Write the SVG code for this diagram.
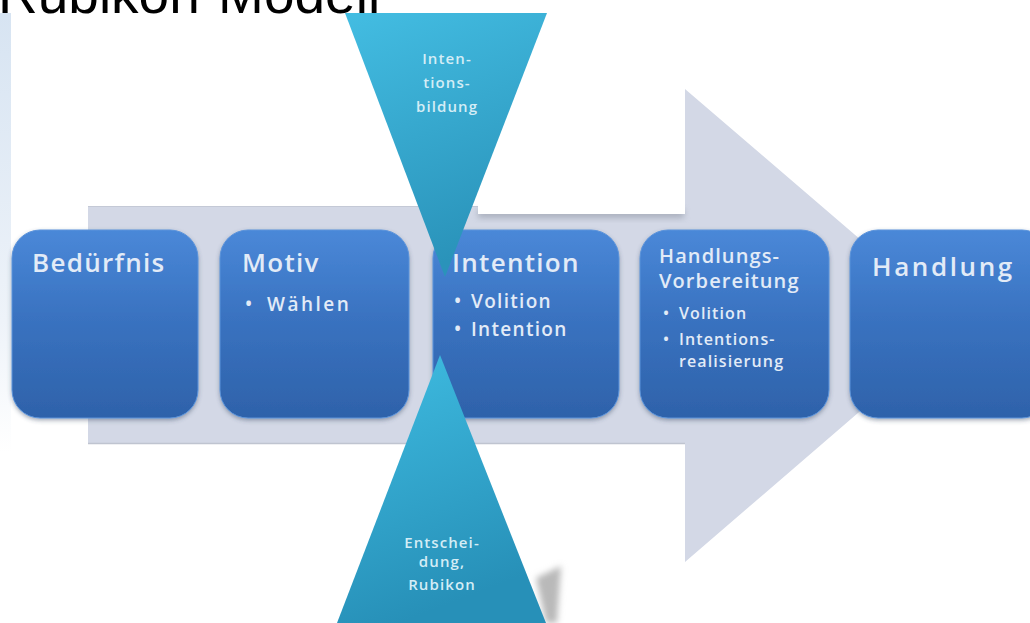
<svg xmlns="http://www.w3.org/2000/svg" width="1030" height="623" viewBox="0 0 1030 623">
  <defs>
    <style>
      .box { fill: url(#boxFill); stroke: #5a93db; stroke-width: 1; filter: url(#boxShadow); }
      .lbl { font-family: "Open Sans", "Noto Sans", sans-serif; font-weight: 600; fill: #e2ebf7; }
      .head { font-size: 26px; letter-spacing: 1.3px; }
      .item { font-size: 19px; letter-spacing: 1.3px; }
      .small { font-size: 20px; letter-spacing: 1.1px; }
      .tiny { font-size: 16px; letter-spacing: 1.1px; }
      .tri { font-family: "Open Sans", "Noto Sans", sans-serif; font-weight: 600; font-size: 15px; letter-spacing: 1.1px; fill: #d4edf6; text-anchor: middle; }
    </style>
    <linearGradient id="boxFill" x1="0" y1="0" x2="0" y2="1">
      <stop offset="0" stop-color="#4a88d8"/>
      <stop offset="0.45" stop-color="#3a73c1"/>
      <stop offset="1" stop-color="#2e62aa"/>
    </linearGradient>
    <linearGradient id="triDown" x1="0" y1="0" x2="0.3" y2="1">
      <stop offset="0" stop-color="#43bde2"/>
      <stop offset="1" stop-color="#2a93ba"/>
    </linearGradient>
    <linearGradient id="triUp" x1="0" y1="0" x2="0.3" y2="1">
      <stop offset="0" stop-color="#3fbde2"/>
      <stop offset="1" stop-color="#2790b8"/>
    </linearGradient>
    <linearGradient id="edgeStrip" x1="0" y1="0" x2="0" y2="1">
      <stop offset="0" stop-color="#d7e4f2"/>
      <stop offset="0.7" stop-color="#eef3f9"/>
      <stop offset="1" stop-color="#ffffff"/>
    </linearGradient>
    <filter id="boxShadow" x="-10%" y="-10%" width="120%" height="125%">
      <feDropShadow dx="0" dy="2" stdDeviation="2" flood-color="#3a4a66" flood-opacity="0.45"/>
    </filter>
    <filter id="soft" x="-50%" y="-50%" width="200%" height="200%">
      <feGaussianBlur stdDeviation="3"/>
    </filter>
  </defs>

  <!-- page background -->
  <rect x="0" y="0" width="1030" height="623" fill="#ffffff"/>
  <rect x="0" y="13" width="11" height="440" fill="url(#edgeStrip)"/>

  <!-- title, partly above the page edge -->
  <text x="-2" y="13" font-family="Liberation Sans, Arial, sans-serif" font-size="55" fill="#000000">Rubikon-Modell</text>

  <!-- process arrow behind the stages -->
  <g id="connectors">
    <polygon points="88,206 685,206 685,89 960,325 685,562 685,443 88,443" fill="#d3d8e6"/>
    <line x1="88" y1="443.5" x2="685" y2="443.5" stroke="#bfc4d0" stroke-width="1.5"/>
    <line x1="88" y1="206.5" x2="478" y2="206.5" stroke="#c4c9d6" stroke-width="1"/>
    <rect x="478" y="209" width="206" height="9" fill="#8f95a3" opacity="0.6" filter="url(#soft)"/>
    <rect x="478" y="200" width="207" height="14" fill="#ffffff"/>
    <polygon points="536,578 561,566 557,623 546,623" fill="#b9b9b9" filter="url(#soft)"/>
  </g>

  <!-- stages -->
  <g id="node-beduerfnis">
    <rect class="box" x="12" y="230" width="186" height="188" rx="28"/>
    <text class="lbl head" x="32" y="272">Bedürfnis</text>
  </g>

  <g id="node-motiv">
    <rect class="box" x="220" y="230" width="189" height="188" rx="28"/>
    <text class="lbl head" x="242" y="272">Motiv</text>
    <text class="lbl item" y="311"><tspan x="245">•</tspan><tspan x="267" style="letter-spacing:2.5px">Wählen</tspan></text>
  </g>

  <g id="node-intention">
    <rect class="box" x="433" y="230" width="186" height="188" rx="28"/>
    <text class="lbl head" x="452" y="272">Intention</text>
    <text class="lbl item" y="308"><tspan x="454">•</tspan><tspan x="471">Volition</tspan></text>
    <text class="lbl item" y="336"><tspan x="454">•</tspan><tspan x="471">Intention</tspan></text>
  </g>

  <g id="node-vorbereitung">
    <rect class="box" x="640" y="230" width="189" height="188" rx="28"/>
    <text class="lbl small" x="659" y="263">Handlungs-</text>
    <text class="lbl small" x="659" y="288">Vorbereitung</text>
    <text class="lbl tiny" y="319"><tspan x="663">•</tspan><tspan x="679">Volition</tspan></text>
    <text class="lbl tiny" y="345"><tspan x="663">•</tspan><tspan x="679">Intentions-</tspan></text>
    <text class="lbl tiny" x="679" y="367">realisierung</text>
  </g>

  <g id="node-handlung">
    <rect class="box" x="850" y="230" width="200" height="188" rx="28"/>
    <text class="lbl head" x="872" y="276" style="letter-spacing:2.6px">Handlung</text>
  </g>

  <!-- phase transitions -->
  <g id="node-intentionsbildung">
    <polygon points="345,13 547,13 445,277" fill="url(#triDown)"/>
    <text class="tri" x="447" y="64">Inten-</text>
    <text class="tri" x="447" y="88">tions-</text>
    <text class="tri" x="447" y="112">bildung</text>
  </g>

  <g id="node-rubikon">
    <polygon points="440,355 337,623 546,623" fill="url(#triUp)"/>
    <text class="tri" x="442" y="548">Entschei-</text>
    <text class="tri" x="442" y="567">dung,</text>
    <text class="tri" x="442" y="590">Rubikon</text>
  </g>
</svg>
